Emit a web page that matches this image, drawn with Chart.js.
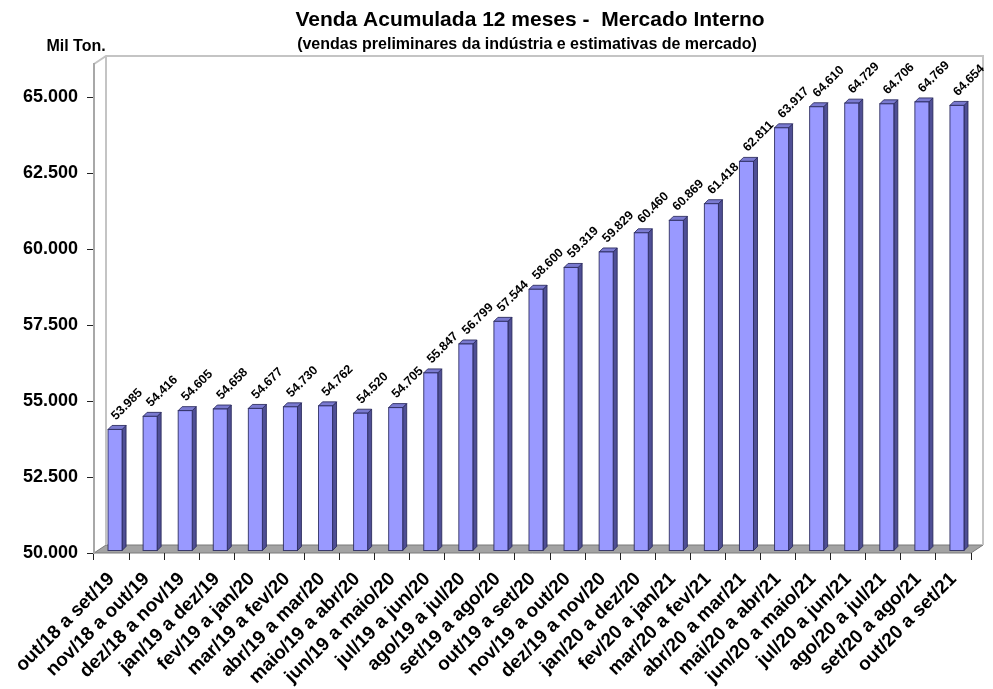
<!DOCTYPE html>
<html>
<head>
<meta charset="utf-8">
<script src="https://cdn.jsdelivr.net/npm/chart.js@4.4.1/dist/chart.umd.min.js"></script>
<style>
  html, body { margin: 0; padding: 0; background: #fff; }
</style>
</head>
<body>
<canvas id="chart" width="993" height="689"></canvas>
<script>
// dados
const categorias = [
  "out/18 a set/19", "nov/18 a out/19", "dez/18 a nov/19", "jan/19 a dez/19",
  "fev/19 a jan/20", "mar/19 a fev/20", "abr/19 a mar/20", "maio/19 a abr/20",
  "jun/19 a maio/20", "jul/19 a jun/20", "ago/19 a jul/20", "set/19 a ago/20",
  "out/19 a set/20", "nov/19 a out/20", "dez/19 a nov/20", "jan/20 a dez/20",
  "fev/20 a jan/21", "mar/20 a fev/21", "abr/20 a mar/21", "mai/20 a abr/21",
  "jun/20 a maio/21", "jul/20 a jun/21", "ago/20 a jul/21", "set/20 a ago/21",
  "out/20 a set/21"
];
const vendas = [
  53985, 54416, 54605, 54658, 54677, 54730, 54762, 54520, 54705, 55847,
  56799, 57544, 58600, 59319, 59829, 60460, 60869, 61418, 62811, 63917,
  64610, 64729, 64706, 64769, 64654
];
const ticksY = [50000, 52500, 55000, 57500, 60000, 62500, 65000];
const eixoMin = 50000;
const eixoMax = 66100;

const FONTE = "'Liberation Sans', Arial, sans-serif";

// 65000 -> "65.000"
function fmt(v) {
  return String(Math.round(v)).replace(/\B(?=(\d{3})+(?!\d))/g, ".");
}

// profundidade do "3D"
const DX = 12, DY = -8;
const SX = 3.5, SY = -2.5;
const BX = 4, BY = -4;

const parede3d = {
  id: "parede3d",
  beforeDraw(chart) {
    const ctx = chart.ctx;
    const a = chart.chartArea;
    ctx.save();
    ctx.fillStyle = "#fff";
    ctx.fillRect(0, 0, chart.width, chart.height);

    // chão
    ctx.beginPath();
    ctx.moveTo(a.left, a.bottom);
    ctx.lineTo(a.right, a.bottom);
    ctx.lineTo(a.right + DX, a.bottom + DY);
    ctx.lineTo(a.left + DX, a.bottom + DY);
    ctx.closePath();
    ctx.fillStyle = "#a3a3a3";
    ctx.fill();
    ctx.strokeStyle = "#7a7a7a";
    ctx.lineWidth = 1;
    ctx.stroke();

    // parede do fundo
    ctx.strokeStyle = "#c4c4c4";
    ctx.lineWidth = 2;
    ctx.beginPath();
    ctx.moveTo(a.left, a.top);
    ctx.lineTo(a.left + DX, a.top + DY);
    ctx.lineTo(a.right + DX, a.top + DY);
    ctx.lineTo(a.right + DX, a.bottom + DY);
    ctx.moveTo(a.left + DX, a.top + DY);
    ctx.lineTo(a.left + DX, a.bottom + DY);
    ctx.stroke();
    ctx.restore();
  },
  beforeDatasetsDraw(chart) {
    const ctx = chart.ctx;
    const meta = chart.getDatasetMeta(0);
    const fundo = chart.chartArea.bottom;
    ctx.save();
    ctx.lineWidth = 1;
    ctx.strokeStyle = "rgba(40,40,90,0.85)";
    meta.data.forEach(function(el) {
      const p = el.getProps(["x", "y", "base", "width"], true);
      const l = p.x - p.width / 2 + SX;
      const r = l + p.width;
      const t = p.y + SY;
      const b = Math.min(p.base, fundo) + SY;
      // lateral
      ctx.beginPath();
      ctx.moveTo(r, b); ctx.lineTo(r, t); ctx.lineTo(r + BX, t + BY); ctx.lineTo(r + BX, b + BY);
      ctx.closePath();
      ctx.fillStyle = "#4f4f95";
      ctx.fill(); ctx.stroke();
      // topo
      ctx.beginPath();
      ctx.moveTo(l, t); ctx.lineTo(r, t); ctx.lineTo(r + BX, t + BY); ctx.lineTo(l + BX, t + BY);
      ctx.closePath();
      ctx.fillStyle = "#7a7ad0";
      ctx.fill(); ctx.stroke();
      // frente
      ctx.fillStyle = "#9999ff";
      ctx.fillRect(l, t, p.width, b - t);
      ctx.strokeRect(l, t, p.width, b - t);
    });
    ctx.restore();
    return false;
  },
  afterDraw(chart) {
    const ctx = chart.ctx;
    const meta = chart.getDatasetMeta(0);
    ctx.save();
    ctx.fillStyle = "#000";

    // rótulos dos valores
    ctx.font = "bold 12.5px " + FONTE;
    ctx.textAlign = "center";
    ctx.textBaseline = "middle";
    meta.data.forEach(function(el, i) {
      const p = el.getProps(["x", "y"], true);
      ctx.save();
      ctx.translate(p.x + SX + 12, p.y + SY - 25);
      ctx.rotate(-Math.PI / 4);
      ctx.fillText(fmt(vendas[i]), 0, 0);
      ctx.restore();
    });

    // títulos
    ctx.textBaseline = "alphabetic";
    ctx.font = "bold 21px " + FONTE;
    ctx.fillText("Venda Acumulada 12 meses -  Mercado Interno", 530, 26);
    ctx.font = "bold 16px " + FONTE;
    ctx.fillText("(vendas preliminares da indústria e estimativas de mercado)", 527, 49);
    ctx.fillText("Mil Ton.", 76, 51);
    ctx.restore();
  }
};

const ctx = document.getElementById("chart").getContext("2d");
new Chart(ctx, {
  type: "bar",
  data: {
    labels: categorias,
    datasets: [{
      label: "Venda acumulada",
      data: vendas,
      backgroundColor: "#9999ff",
      barPercentage: 0.4,
      categoryPercentage: 1.0
    }]
  },
  options: {
    responsive: false,
    animation: false,
    layout: { padding: { top: 64, right: 22, left: 0, bottom: 0 } },
    plugins: {
      legend: { display: false },
      tooltip: { enabled: false },
      title: { display: false }
    },
    scales: {
      x: {
        offset: true,
        grid: { offset: true, drawOnChartArea: false, tickLength: 7, color: "#222" },
        border: { display: false },
        ticks: {
          font: { family: FONTE, size: 19, weight: "bold" },
          color: "#000",
          minRotation: 45,
          maxRotation: 45,
          autoSkip: false,
          padding: 8
        },
        afterFit(s) { s.height = 136; }
      },
      y: {
        min: eixoMin,
        max: eixoMax,
        grid: { drawOnChartArea: false, tickLength: 7, color: "#222" },
        border: { color: "#a8a8a8", width: 2 },
        ticks: {
          font: { family: FONTE, size: 18, weight: "bold" },
          color: "#000",
          padding: 9,
          callback: function(v) { return fmt(v); }
        },
        afterBuildTicks(s) {
          s.ticks = ticksY.map(function(v) { return { value: v }; });
        },
        afterFit(s) { s.width = 94; }
      }
    }
  },
  plugins: [parede3d]
});
</script>
</body>
</html>
